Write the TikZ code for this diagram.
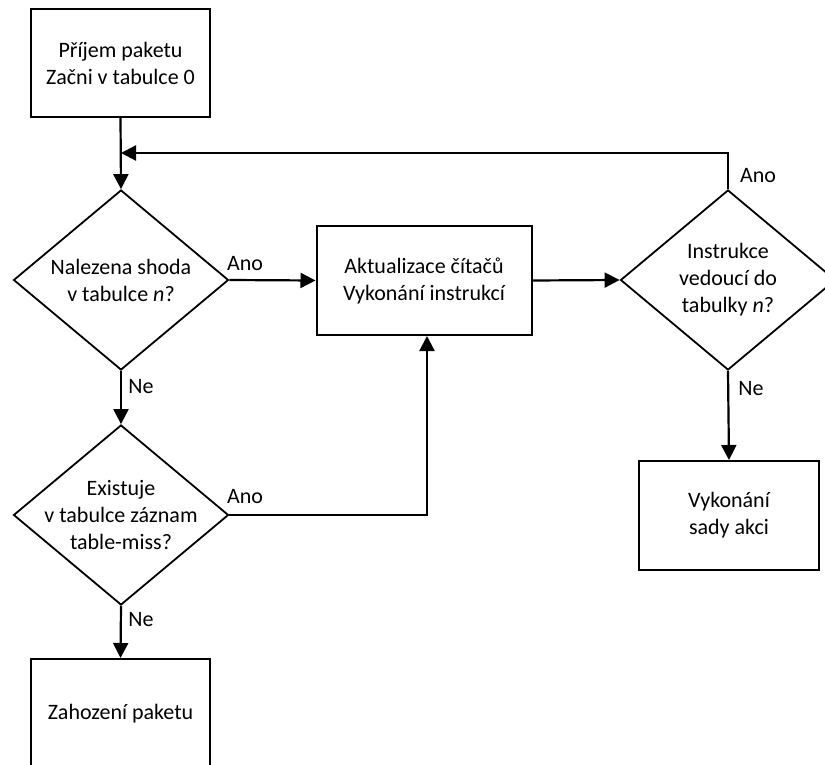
\documentclass[tikz,border=0pt]{standalone}
\usepackage{fontspec}
\setmainfont{Carlito}
\usetikzlibrary{arrows.meta,shapes.geometric}
\begin{document}
\begin{tikzpicture}[x=1pt,y=-1pt,
  font=\fontsize{22}{27}\selectfont,
  box/.style={draw,line width=2pt,rectangle,inner sep=0pt},
  dia/.style={draw,line width=1.8pt,diamond,inner sep=0pt,minimum width=215pt,minimum height=180pt},
  txt/.style={align=center,inner sep=0pt},
  lbl/.style={inner sep=0pt},
  conn/.style={line width=2.2pt,-{Triangle[length=15pt,width=15pt]}},
  plain/.style={line width=2.2pt}]
\useasboundingbox (0,0) rectangle (825,765);
% boxes
\node[box,minimum width=179pt,minimum height=108pt] (start) at (120.5,63) {};
\node[txt] at (start.center) {Příjem paketu\\Začni v tabulce 0};
\node[box,minimum width=215pt,minimum height=109pt] (upd) at (424,280.5) {};
\node[txt] at (upd.center) {Aktualizace čítačů\\Vykonání instrukcí};
\node[box,minimum width=179pt,minimum height=110pt] (drop) at (120.5,714) {};
\node[txt] at (drop.center) {Zahození paketu};
\node[box,minimum width=180pt,minimum height=109pt] (act) at (729,515.5) {};
\node[txt] at (act.center) {Vykonání\\sady akci};
% diamonds
\node[dia] (d1) at (121,280) {};
\node[txt] at (d1.center) {Nalezena shoda\\v tabulce \textit{n}?};
\node[dia] (d2) at (121,515) {};
\node[txt] at (d2.center) {Existuje\\v tabulce záznam\\table-miss?};
\node[dia] (d3) at (728,280) {};
\node[txt] at (d3.center) {Instrukce\\vedoucí do\\tabulky \textit{n}?};
% helper coordinates
\coordinate (fb) at (121,153);
\coordinate (fbr) at (728,153);
\coordinate (bend) at (427,515);
% connectors
\draw[conn] (start.south) -- (d1.north);
\draw[conn] (d3.north) -- (fbr) -- (fb);
\draw[conn] (d1.east) -- (upd.west);
\draw[conn] (upd.east) -- (d3.west);
\draw[conn] (d1.south) -- (d2.north);
\draw[conn] (d2.south) -- (drop.north);
\draw[conn] (d3.south) -- (act.north);
\draw[conn] (d2.east) -- (bend) -- (bend |- upd.south);
% labels
\node[lbl] at (245,264) {Ano};
\node[lbl] at (141,387) {Ne};
\node[lbl] at (245,497) {Ano};
\node[lbl] at (141,620) {Ne};
\node[lbl] at (758,176) {Ano};
\node[lbl] at (751,389) {Ne};
\end{tikzpicture}
\end{document}
